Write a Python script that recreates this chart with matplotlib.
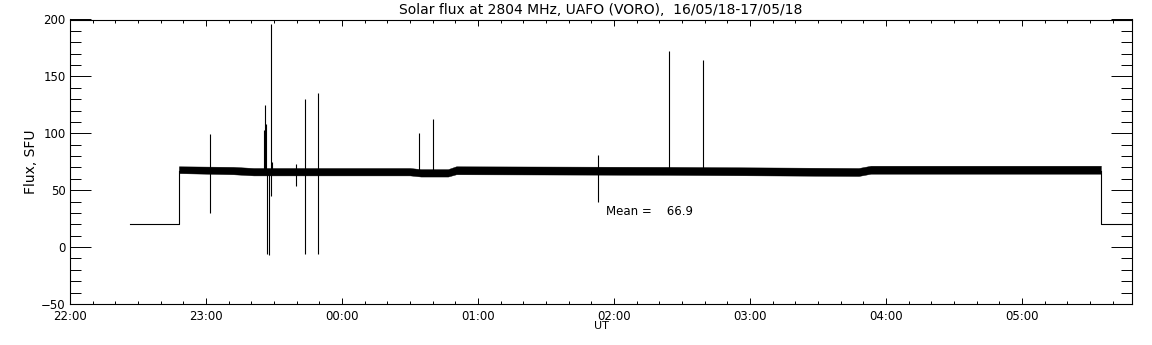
import matplotlib.pyplot as plt
import matplotlib.ticker as mticker

# time in hours after 22:00 UT (16/05/18)
base_t = [0.441, 0.801]
base_v = [20, 20]
tail_t = [7.581, 7.81]
tail_v = [20, 20]

# noisy trace drawn as its min/max envelope
band_t = [0.801, 1.20, 1.35, 2.50, 2.58, 2.78, 2.84, 4.40, 5.80, 5.89, 7.581]
band_lo = [65.0, 64.0, 63.0, 63.0, 62.0, 62.0, 64.0, 63.5, 62.5, 64.5, 64.5]
band_hi = [71.0, 70.5, 69.5, 69.5, 68.5, 68.5, 71.0, 70.5, 69.5, 71.5, 71.5]

# interference spikes: time, low, high
spike_t = [1.029, 1.424, 1.436, 1.443, 1.451, 1.465, 1.480, 1.488,
           1.660, 1.730, 1.826, 2.568, 2.667, 3.880, 4.407, 4.657]
spike_lo = [30, 66, 66, 66, -6, -7, 45, 66,
            54, -6, -6, 66, 66, 40, 66, 66]
spike_hi = [99, 103, 125, 108, 66, 66, 196, 75,
            73, 130, 135, 100, 113, 81, 172, 164]

mean_flux = 66.9
title = 'Solar flux at 2804 MHz, UAFO (VORO),  16/05/18-17/05/18'

plt.rcParams['font.family'] = 'DejaVu Sans'
plt.rcParams['font.size'] = 8.5

fig = plt.figure(figsize=(11.52, 3.45), dpi=100)
ax = fig.add_axes([70 / 1152, 41 / 345, 1062 / 1152, 284.5 / 345])

lw = 0.8
ax.plot(base_t + [base_t[-1]], base_v + [band_lo[0] + 2], color='black', lw=lw)
ax.plot([tail_t[0]] + tail_t, [band_lo[-1] + 2] + tail_v, color='black', lw=lw)
ax.fill_between(band_t, band_lo, band_hi, color='black', lw=0.3,
                edgecolor='black')
ax.vlines(spike_t, spike_lo, spike_hi, color='black', lw=lw)

ax.text(3.94, 31, f'Mean = {mean_flux:7.1f}', va='center', ha='left')

ax.set_xlim(0, 7.81)
ax.set_ylim(-50, 200)

ax.xaxis.set_major_locator(mticker.MultipleLocator(1))
ax.xaxis.set_minor_locator(mticker.MultipleLocator(1 / 6))
ax.xaxis.set_major_formatter(
    mticker.FuncFormatter(lambda h, pos: f'{int(round(22 + h)) % 24:02d}:00'))
ax.yaxis.set_major_locator(mticker.MultipleLocator(50))
ax.yaxis.set_minor_locator(mticker.MultipleLocator(10))

ax.tick_params(axis='x', which='major', direction='in', length=4.1, width=0.7,
               top=True, bottom=True, pad=4)
ax.tick_params(axis='x', which='minor', direction='in', length=2.0, width=0.7,
               top=True, bottom=True)
ax.tick_params(axis='y', which='major', direction='in', length=15.3, width=0.7,
               left=True, right=True, pad=3)
ax.tick_params(axis='y', which='minor', direction='in', length=7.6, width=0.7,
               left=True, right=True)
for s in ax.spines.values():
    s.set_linewidth(0.8)

ax.set_title(title, fontsize=10, pad=4)
ax.set_xlabel('UT', fontsize=8, labelpad=-1)
ax.set_ylabel('Flux, SFU', fontsize=10, labelpad=2)

fig.savefig('out.png', dpi=100)
